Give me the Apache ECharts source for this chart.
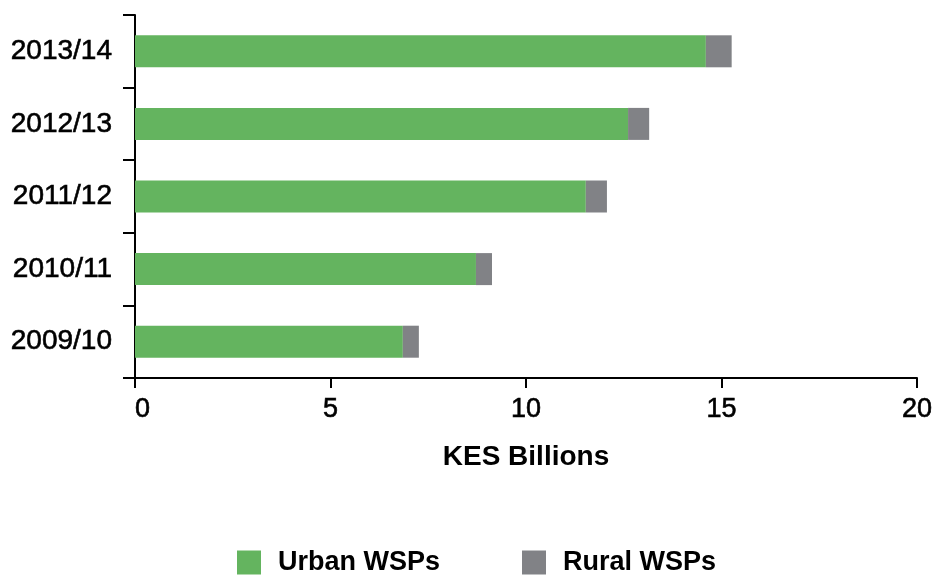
<!DOCTYPE html>
<html>
<head>
<meta charset="utf-8">
<script src="https://cdn.jsdelivr.net/npm/echarts@6/dist/echarts.min.js"></script>
<style>
html,body{margin:0;padding:0;background:#fff;}
#c{width:937px;height:576px;}
</style>
</head>
<body>
<div id="c"></div>
<script>
const categories = ['2009/10', '2010/11', '2011/12', '2012/13', '2013/14'];
const urbanWSPs = [6.85, 8.72, 11.53, 12.61, 14.60];
const ruralWSPs = [0.41, 0.41, 0.54, 0.54, 0.66];
const xTicks = { min: 0, max: 20, interval: 5 };
const seriesNames = ['Urban WSPs', 'Rural WSPs'];
const axisTitle = 'KES Billions';

const FONT = '"Liberation Sans", Arial, Helvetica, sans-serif';
const chart = echarts.init(document.getElementById('c'), null, { renderer: 'canvas' });
chart.setOption({
  animation: false,
  backgroundColor: '#ffffff',
  grid: { left: 135, right: 20, top: 15, bottom: 198, containLabel: false, outerBoundsMode: 'none' },
  legend: {
    data: seriesNames,
    left: 232, top: 544,
    itemWidth: 24, itemHeight: 24, itemGap: 82,
    icon: 'rect',
    textStyle: { fontFamily: FONT, fontSize: 27, fontWeight: 'bold', color: '#000', padding: [0, 0, 0, 12] }
  },
  xAxis: {
    type: 'value',
    min: xTicks.min, max: xTicks.max, interval: xTicks.interval,
    name: axisTitle, nameLocation: 'middle', nameGap: 65,
    nameTextStyle: { fontFamily: FONT, fontSize: 28, fontWeight: 'bold', color: '#000' },
    axisLine: { show: true, lineStyle: { color: '#000', width: 2 } },
    axisTick: { show: true, length: 10, lineStyle: { color: '#000', width: 2 } },
    axisLabel: { fontFamily: FONT, fontSize: 27, color: '#000', margin: 18, alignMinLabel: 'left',
                 textBorderColor: '#000', textBorderWidth: 0.6 },
    splitLine: { show: false }
  },
  yAxis: {
    type: 'category',
    data: categories,
    axisLine: { show: true, lineStyle: { color: '#000', width: 2 } },
    axisTick: { show: true, alignWithLabel: false, length: 12, lineStyle: { color: '#000', width: 2 } },
    axisLabel: { fontFamily: FONT, fontSize: 28, color: '#000', margin: 23,
                 textBorderColor: '#000', textBorderWidth: 0.6 },
    splitLine: { show: false }
  },
  series: [
    { name: seriesNames[0], type: 'bar', stack: 'total', data: urbanWSPs, barWidth: 32, itemStyle: { color: '#64b45f' } },
    { name: seriesNames[1], type: 'bar', stack: 'total', data: ruralWSPs, barWidth: 32, itemStyle: { color: '#818286' } }
  ]
});
</script>
</body>
</html>
